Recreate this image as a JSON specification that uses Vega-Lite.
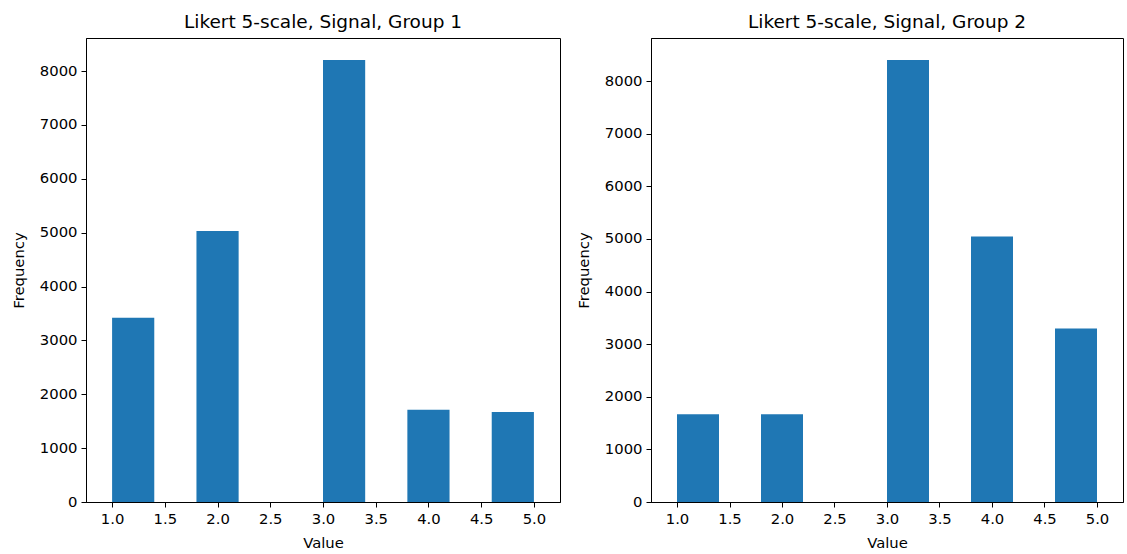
{
  "$schema": "https://vega.github.io/schema/vega-lite/v6.json",
  "background": "white",
  "padding": {"left": 10, "top": 12, "right": 4, "bottom": 4},
  "config": {
    "font": "DejaVu Sans",
    "view": {"stroke": "#000000", "strokeWidth": 1},
    "axis": {
      "grid": false,
      "domainColor": "#000000",
      "domainWidth": 1,
      "tickColor": "#000000",
      "tickSize": 5,
      "tickWidth": 1,
      "labelFont": "DejaVu Sans",
      "labelFontSize": 14.8,
      "labelColor": "#000000",
      "labelPadding": 4,
      "titleFont": "DejaVu Sans",
      "titleFontSize": 14.8,
      "titleFontWeight": "normal",
      "titleColor": "#000000",
      "titlePadding": 10
    },
    "axisY": {"titlePadding": 13},
    "title": {
      "font": "DejaVu Sans",
      "fontSize": 18.5,
      "fontWeight": "normal",
      "color": "#000000",
      "offset": 7
    },
    "concat": {"spacing": 14}
  },
  "data": {
    "values": [
      {"group": "Group 1", "bin_start": 1.0, "bin_end": 1.4, "count": 3420},
      {"group": "Group 1", "bin_start": 1.4, "bin_end": 1.8, "count": 0},
      {"group": "Group 1", "bin_start": 1.8, "bin_end": 2.2, "count": 5030},
      {"group": "Group 1", "bin_start": 2.2, "bin_end": 2.6, "count": 0},
      {"group": "Group 1", "bin_start": 2.6, "bin_end": 3.0, "count": 0},
      {"group": "Group 1", "bin_start": 3.0, "bin_end": 3.4, "count": 8205},
      {"group": "Group 1", "bin_start": 3.4, "bin_end": 3.8, "count": 0},
      {"group": "Group 1", "bin_start": 3.8, "bin_end": 4.2, "count": 1715},
      {"group": "Group 1", "bin_start": 4.2, "bin_end": 4.6, "count": 0},
      {"group": "Group 1", "bin_start": 4.6, "bin_end": 5.0, "count": 1670},
      {"group": "Group 2", "bin_start": 1.0, "bin_end": 1.4, "count": 1667},
      {"group": "Group 2", "bin_start": 1.4, "bin_end": 1.8, "count": 0},
      {"group": "Group 2", "bin_start": 1.8, "bin_end": 2.2, "count": 1667},
      {"group": "Group 2", "bin_start": 2.2, "bin_end": 2.6, "count": 0},
      {"group": "Group 2", "bin_start": 2.6, "bin_end": 3.0, "count": 0},
      {"group": "Group 2", "bin_start": 3.0, "bin_end": 3.4, "count": 8400},
      {"group": "Group 2", "bin_start": 3.4, "bin_end": 3.8, "count": 0},
      {"group": "Group 2", "bin_start": 3.8, "bin_end": 4.2, "count": 5046},
      {"group": "Group 2", "bin_start": 4.2, "bin_end": 4.6, "count": 0},
      {"group": "Group 2", "bin_start": 4.6, "bin_end": 5.0, "count": 3297}
    ]
  },
  "hconcat": [
    {
      "title": "Likert 5-scale, Signal, Group 1",
      "width": 474,
      "height": 464,
      "transform": [{"filter": "datum.group === 'Group 1'"}],
      "mark": {"type": "bar", "orient": "vertical", "color": "#1f77b4"},
      "encoding": {
        "x": {
          "field": "bin_start",
          "type": "quantitative",
          "title": "Value",
          "scale": {"domain": [0.8, 5.2], "nice": false, "zero": false},
          "axis": {"values": [1.0, 1.5, 2.0, 2.5, 3.0, 3.5, 4.0, 4.5, 5.0], "format": ".1f"}
        },
        "x2": {"field": "bin_end"},
        "y": {
          "field": "count",
          "type": "quantitative",
          "title": "Frequency",
          "scale": {"domain": [0, 8615], "nice": false},
          "axis": {"values": [0, 1000, 2000, 3000, 4000, 5000, 6000, 7000, 8000], "format": "d"}
        },
        "y2": {"datum": 0}
      }
    },
    {
      "title": "Likert 5-scale, Signal, Group 2",
      "width": 472,
      "height": 464,
      "transform": [{"filter": "datum.group === 'Group 2'"}],
      "mark": {"type": "bar", "orient": "vertical", "color": "#1f77b4"},
      "encoding": {
        "x": {
          "field": "bin_start",
          "type": "quantitative",
          "title": "Value",
          "scale": {"domain": [0.8, 5.2], "nice": false, "zero": false},
          "axis": {"values": [1.0, 1.5, 2.0, 2.5, 3.0, 3.5, 4.0, 4.5, 5.0], "format": ".1f"}
        },
        "x2": {"field": "bin_end"},
        "y": {
          "field": "count",
          "type": "quantitative",
          "title": "Frequency",
          "scale": {"domain": [0, 8820], "nice": false},
          "axis": {"values": [0, 1000, 2000, 3000, 4000, 5000, 6000, 7000, 8000], "format": "d"}
        },
        "y2": {"datum": 0}
      }
    }
  ]
}
